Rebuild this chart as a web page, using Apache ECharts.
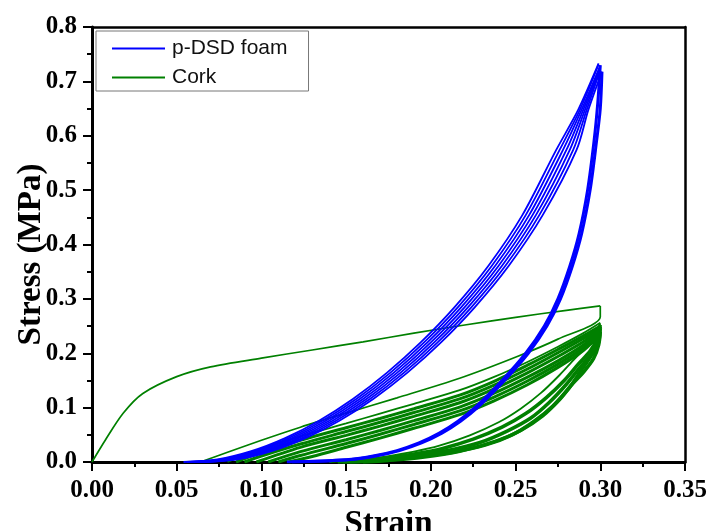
<!DOCTYPE html>
<html><head><meta charset="utf-8">
<script src="https://cdn.jsdelivr.net/npm/echarts@6/dist/echarts.min.js"></script>
<style>html,body{margin:0;padding:0;background:#fff}#c{width:711px;height:531px}</style>
</head><body><div id="c"></div>
<script>
const xTicks = [0, 0.05, 0.10, 0.15, 0.20, 0.25, 0.30, 0.35];
const yTicks = [0, 0.1, 0.2, 0.3, 0.4, 0.5, 0.6, 0.7, 0.8];
const seriesNames = ['p-DSD foam', 'Cork'];

// p-DSD foam: loading branches of the repeated cycles (strain, stress MPa)
const foamLoad1 = [[0.054,0],[0.074,0.005],[0.094,0.020],[0.114,0.044],[0.134,0.076],[0.154,0.116],[0.174,0.164],[0.194,0.220],[0.214,0.285],[0.234,0.361],[0.254,0.454],[0.274,0.574],[0.287,0.648],[0.299,0.733]];
const foamLoad2 = [[0.056,0],[0.076,0.005],[0.096,0.020],[0.116,0.044],[0.136,0.076],[0.156,0.116],[0.176,0.164],[0.196,0.220],[0.216,0.285],[0.236,0.361],[0.256,0.454],[0.276,0.574],[0.288,0.648],[0.299,0.731]];
const foamLoad3 = [[0.058,0],[0.078,0.005],[0.098,0.020],[0.118,0.044],[0.138,0.076],[0.158,0.116],[0.178,0.164],[0.198,0.220],[0.218,0.285],[0.238,0.361],[0.258,0.454],[0.278,0.574],[0.289,0.648],[0.300,0.729]];
const foamLoad4 = [[0.060,0],[0.080,0.005],[0.100,0.020],[0.120,0.044],[0.140,0.076],[0.160,0.116],[0.180,0.164],[0.200,0.220],[0.220,0.285],[0.240,0.361],[0.260,0.454],[0.280,0.574],[0.290,0.648],[0.300,0.727]];
const foamLoad5 = [[0.062,0],[0.082,0.005],[0.102,0.020],[0.122,0.044],[0.142,0.076],[0.162,0.116],[0.182,0.164],[0.202,0.220],[0.222,0.285],[0.242,0.361],[0.262,0.454],[0.282,0.574],[0.291,0.648],[0.300,0.724]];
const foamLoad6 = [[0.064,0],[0.084,0.005],[0.104,0.020],[0.124,0.044],[0.144,0.076],[0.164,0.116],[0.184,0.164],[0.204,0.220],[0.224,0.285],[0.244,0.361],[0.264,0.454],[0.284,0.574],[0.292,0.648],[0.300,0.721]];
const foamLoad7 = [[0.066,0],[0.086,0.005],[0.106,0.020],[0.126,0.044],[0.146,0.076],[0.166,0.116],[0.186,0.164],[0.206,0.220],[0.226,0.285],[0.246,0.361],[0.266,0.454],[0.286,0.574],[0.293,0.648],[0.301,0.718]];
// p-DSD foam: unloading branches (nearly coincident)
const foamUnload1 = [[0.300,0.730],[0.2985,0.660],[0.2963,0.590],[0.2925,0.500],[0.2875,0.420],[0.282,0.360],[0.275,0.300],[0.267,0.250],[0.256,0.200],[0.242,0.150],[0.226,0.100],[0.216,0.075],[0.205,0.053],[0.193,0.035],[0.180,0.021],[0.166,0.011],[0.150,0.004],[0.115,0]];
const foamUnload2 = [[0.301,0.718],[0.300,0.650],[0.2978,0.590],[0.294,0.500],[0.289,0.420],[0.2835,0.360],[0.2765,0.300],[0.2685,0.250],[0.2575,0.200],[0.2435,0.150],[0.2275,0.100],[0.2175,0.075],[0.2065,0.053],[0.1945,0.035],[0.1815,0.021],[0.1675,0.011],[0.1515,0.004],[0.118,0]];

// Cork: first loading (plateau) and first unloading
const corkLoad1 = [[0,0],[0.008,0.041],[0.0185,0.090],[0.030,0.126],[0.050,0.157],[0.070,0.175],[0.100,0.191],[0.130,0.206],[0.160,0.221],[0.190,0.237],[0.220,0.252],[0.250,0.266],[0.280,0.279],[0.300,0.287]];
const corkUnload1 = [[0.300,0.287],[0.300,0.267],[0.275,0.226],[0.251,0.194],[0.217,0.154],[0.180,0.118],[0.150,0.090],[0.123,0.064],[0.100,0.040],[0.080,0.018],[0.064,0]];
// Cork: later loading branches (middle band)
const corkLoad2 = [[0.080,0],[0.100,0.024],[0.123,0.047],[0.150,0.071],[0.170,0.089],[0.190,0.107],[0.217,0.132],[0.237,0.156],[0.257,0.184],[0.275,0.212],[0.290,0.237],[0.300,0.256]];
const corkLoad3 = [[0.085,0],[0.100,0.018],[0.123,0.040],[0.150,0.063],[0.170,0.080],[0.190,0.098],[0.217,0.123],[0.237,0.148],[0.257,0.178],[0.275,0.207],[0.290,0.232],[0.300,0.250]];
const corkLoad4 = [[0.090,0],[0.100,0.011],[0.123,0.033],[0.150,0.056],[0.170,0.073],[0.190,0.091],[0.217,0.116],[0.237,0.141],[0.257,0.171],[0.275,0.201],[0.290,0.227],[0.300,0.248]];
const corkLoad5 = [[0.097,0],[0.123,0.027],[0.150,0.049],[0.170,0.066],[0.190,0.084],[0.217,0.109],[0.237,0.134],[0.257,0.164],[0.275,0.194],[0.290,0.221],[0.300,0.245]];
const corkLoad6 = [[0.104,0],[0.123,0.019],[0.150,0.041],[0.170,0.058],[0.190,0.076],[0.217,0.101],[0.237,0.126],[0.257,0.156],[0.275,0.186],[0.290,0.215],[0.300,0.241]];
const corkLoad7 = [[0.110,0],[0.123,0.012],[0.150,0.034],[0.170,0.051],[0.190,0.069],[0.217,0.094],[0.237,0.119],[0.257,0.149],[0.275,0.180],[0.290,0.210],[0.300,0.238]];
const corkLoad8 = [[0.116,0],[0.130,0.010],[0.150,0.027],[0.170,0.044],[0.190,0.062],[0.217,0.087],[0.237,0.112],[0.257,0.142],[0.275,0.174],[0.290,0.205],[0.300,0.235]];
// Cork: later unloading branches (lower band)
const corkUnload2 = [[0.300,0.255],[0.297,0.232],[0.292,0.212],[0.285,0.190],[0.276,0.160],[0.265,0.127],[0.253,0.098],[0.240,0.073],[0.223,0.049],[0.205,0.030],[0.190,0.019],[0.175,0.011],[0.160,0.005],[0.140,0]];
const corkUnload3 = [[0.300,0.252],[0.298,0.226],[0.294,0.204],[0.287,0.180],[0.279,0.151],[0.268,0.118],[0.256,0.089],[0.242,0.064],[0.225,0.042],[0.207,0.025],[0.191,0.015],[0.176,0.008],[0.160,0.003],[0.145,0]];
const corkUnload4 = [[0.300,0.249],[0.298,0.224],[0.295,0.200],[0.288,0.174],[0.280,0.143],[0.270,0.110],[0.259,0.081],[0.245,0.057],[0.229,0.036],[0.210,0.021],[0.193,0.012],[0.177,0.006],[0.162,0.002],[0.148,0]];
const corkUnload5 = [[0.300,0.246],[0.299,0.221],[0.295,0.197],[0.289,0.170],[0.282,0.138],[0.272,0.103],[0.261,0.075],[0.248,0.050],[0.232,0.031],[0.213,0.018],[0.194,0.010],[0.177,0.004],[0.162,0.001],[0.152,0]];
const corkUnload6 = [[0.300,0.240],[0.299,0.215],[0.296,0.190],[0.290,0.165],[0.284,0.145],[0.276,0.115],[0.266,0.085],[0.253,0.058],[0.238,0.038],[0.217,0.020],[0.195,0.009],[0.175,0.003],[0.160,0]];

const BLUE = '#0000ff', GREEN = '#008000';
const serif = '"Liberation Serif","Times New Roman",serif';

function curve(name, data, color, width) {
  return { name: name, type: 'line', data: data, showSymbol: false, symbol: 'none',
    smooth: 0.3, silent: true, lineStyle: { color: color, width: width }, itemStyle: { color: color } };
}
const series = [];
series.push(curve(seriesNames[1], corkLoad1, GREEN, 1.7));
series.push(curve(seriesNames[1], corkUnload1, GREEN, 1.7));
[corkLoad2, corkLoad3, corkLoad4, corkLoad5, corkLoad6, corkLoad7, corkLoad8].forEach((d, i) => series.push(curve(seriesNames[1], d, GREEN, i === 0 ? 1.8 : 3)));
[corkUnload2, corkUnload3, corkUnload4, corkUnload5, corkUnload6].forEach((d, i) => series.push(curve(seriesNames[1], d, GREEN, i === 0 ? 1.8 : 3.6)));
[foamLoad1, foamLoad2, foamLoad3, foamLoad4, foamLoad5, foamLoad6, foamLoad7].forEach(d => series.push(curve(seriesNames[0], d, BLUE, 1.8)));
[foamUnload1, foamUnload2].forEach(d => series.push(curve(seriesNames[0], d, BLUE, 3)));

const chart = echarts.init(document.getElementById('c'), null, { renderer: 'canvas' });
chart.setOption({
  animation: false,
  backgroundColor: '#fff',
  grid: { left: 92, right: 26, top: 27, bottom: 69, containLabel: false, outerBoundsMode: 'none' },
  legend: {
    data: seriesNames, orient: 'vertical', left: 96, top: 31,
    icon: 'rect', itemWidth: 53, itemHeight: 2, itemGap: 8,
    padding: [7, 21, 3, 16], backgroundColor: '#fff', borderColor: '#777', borderWidth: 1,
    textStyle: { fontFamily: 'Arial, "Liberation Sans", sans-serif', fontSize: 21, color: '#111', padding: [0, 0, 0, 2] }
  },
  xAxis: [{
    type: 'value', min: xTicks[0], max: xTicks[xTicks.length - 1], interval: 0.05,
    name: 'Strain', nameLocation: 'middle', nameGap: 44,
    nameTextStyle: { fontFamily: serif, fontWeight: 'bold', fontSize: 33, color: '#000' },
    axisLine: { show: true, onZero: false, lineStyle: { color: '#000', width: 3 } },
    axisTick: { show: true, length: 9, lineStyle: { color: '#000', width: 2 } },
    minorTick: { show: true, splitNumber: 2, length: 5, lineStyle: { color: '#000', width: 2 } },
    splitLine: { show: false },
    axisLabel: { margin: 16, fontFamily: serif, fontWeight: 'bold', fontSize: 25, color: '#000',
      formatter: v => v.toFixed(2) }
  }, {
    type: 'value', position: 'top', min: 0, max: 0.35,
    axisLine: { show: true, onZero: false, lineStyle: { color: '#000', width: 2.5 } },
    axisTick: { show: false }, axisLabel: { show: false }, splitLine: { show: false }
  }],
  yAxis: [{
    type: 'value', min: yTicks[0], max: yTicks[yTicks.length - 1], interval: 0.1,
    name: 'Stress (MPa)', nameLocation: 'middle', nameGap: 44, nameMoveOverlap: false,
    nameTextStyle: { fontFamily: serif, fontWeight: 'bold', fontSize: 33, color: '#000', padding: [0, 20, 0, 0] },
    axisLine: { show: true, onZero: false, lineStyle: { color: '#000', width: 3 } },
    axisTick: { show: true, length: 9, lineStyle: { color: '#000', width: 2 } },
    minorTick: { show: true, splitNumber: 2, length: 5, lineStyle: { color: '#000', width: 2 } },
    splitLine: { show: false },
    axisLabel: { margin: 15, fontFamily: serif, fontWeight: 'bold', fontSize: 25, color: '#000',
      formatter: v => v.toFixed(1) }
  }, {
    type: 'value', position: 'right', min: 0, max: 0.8,
    axisLine: { show: true, onZero: false, lineStyle: { color: '#000', width: 2.5 } },
    axisTick: { show: false }, axisLabel: { show: false }, splitLine: { show: false }
  }],
  series: series
});
</script></body></html>
